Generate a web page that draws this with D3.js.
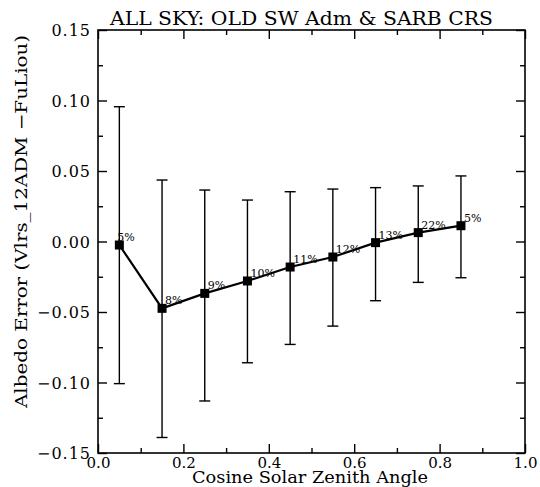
<!DOCTYPE html>
<html>
<head>
<meta charset="utf-8">
<script src="https://cdn.jsdelivr.net/npm/d3@7"></script>
<style>
  body { margin: 0; background: #fff; }
  svg text { font-family: "DejaVu Serif", "Liberation Serif", serif; fill: #000; }
</style>
</head>
<body>
<svg id="chart" width="540" height="487"></svg>
<script>
// cosine of solar zenith angle bins
const csza = [0.05, 0.15, 0.25, 0.35, 0.45, 0.55, 0.65, 0.75, 0.85];
// mean albedo error per bin
const albedoErr = [-0.0025, -0.0474, -0.0368, -0.028, -0.0181, -0.011, -0.0008, 0.0063, 0.0112];
// error bar ends
const errHigh = [0.0956, 0.0436, 0.0365, 0.0294, 0.0353, 0.0372, 0.0382, 0.0394, 0.0465];
const errLow = [-0.1008, -0.139, -0.1131, -0.086, -0.073, -0.060, -0.042, -0.029, -0.0257];
// percentage of samples in each bin
const pctLabels = ["5%", "8%", "9%", "10%", "11%", "12%", "13%", "22%", "5%"];

const xMajor = [0.0, 0.2, 0.4, 0.6, 0.8, 1.0];
const xMinor = [0.1, 0.3, 0.5, 0.7, 0.9];
const yMajor = [-0.15, -0.10, -0.05, 0.00, 0.05, 0.10, 0.15];
const yMinor = [-0.125, -0.075, -0.025, 0.025, 0.075, 0.125];

const plotL = 98, plotR = 525, plotT = 30, plotB = 453;

const svg = d3.select("#chart");
const x = d3.scaleLinear().domain([0, 1]).range([plotL, plotR]);
const y = d3.scaleLinear().domain([-0.15, 0.15]).range([plotB, plotT]);

// frame
svg.append("rect")
    .attr("x", plotL).attr("y", plotT)
    .attr("width", plotR - plotL).attr("height", plotB - plotT)
    .attr("fill", "none").attr("stroke", "#000").attr("stroke-width", 1.6);

function styleAxis(g) {
    g.select(".domain").remove();
    g.selectAll(".tick line").attr("stroke", "#000").attr("stroke-width", 1.4);
}

// bottom axis with labels
svg.append("g")
    .attr("transform", `translate(0,${plotB})`)
    .call(d3.axisBottom(x).tickValues(xMajor).tickSize(-9).tickFormat(d3.format(".1f")))
    .call(styleAxis)
    .call(g => g.selectAll(".tick text")
        .attr("y", 15).attr("dy", 0)
        .style("font-family", "DejaVu Serif").style("font-size", "15px"));
svg.append("g")
    .attr("transform", `translate(0,${plotB})`)
    .call(d3.axisBottom(x).tickValues(xMinor).tickSize(-5).tickFormat(""))
    .call(styleAxis);
// top axis
svg.append("g")
    .attr("transform", `translate(0,${plotT})`)
    .call(d3.axisTop(x).tickValues(xMajor).tickSize(-9).tickFormat(""))
    .call(styleAxis);
svg.append("g")
    .attr("transform", `translate(0,${plotT})`)
    .call(d3.axisTop(x).tickValues(xMinor).tickSize(-5).tickFormat(""))
    .call(styleAxis);

// left axis with labels
svg.append("g")
    .attr("transform", `translate(${plotL},0)`)
    .call(d3.axisLeft(y).tickValues(yMajor).tickSize(-9).tickFormat(d3.format(".2f")))
    .call(styleAxis)
    .call(g => g.selectAll(".tick text")
        .attr("x", -7).attr("dy", "0.35em")
        .text(d => d3.format(".2f")(d).replace("-", "\u2212"))
        .style("letter-spacing", "1px")
        .style("font-family", "DejaVu Serif").style("font-size", "16px"));
svg.append("g")
    .attr("transform", `translate(${plotL},0)`)
    .call(d3.axisLeft(y).tickValues(yMinor).tickSize(-5).tickFormat(""))
    .call(styleAxis);
// right axis
svg.append("g")
    .attr("transform", `translate(${plotR},0)`)
    .call(d3.axisRight(y).tickValues(yMajor).tickSize(-9).tickFormat(""))
    .call(styleAxis);
svg.append("g")
    .attr("transform", `translate(${plotR},0)`)
    .call(d3.axisRight(y).tickValues(yMinor).tickSize(-5).tickFormat(""))
    .call(styleAxis);

// error bars
const bars = svg.append("g").attr("stroke", "#000").attr("stroke-width", 1.4);
csza.forEach((c, i) => {
    bars.append("line")
        .attr("x1", x(c)).attr("x2", x(c))
        .attr("y1", y(errHigh[i])).attr("y2", y(errLow[i]));
    [errHigh[i], errLow[i]].forEach(v => {
        bars.append("line")
            .attr("x1", x(c) - 5.5).attr("x2", x(c) + 5.5)
            .attr("y1", y(v)).attr("y2", y(v));
    });
});

// mean line
const line = d3.line().x((d, i) => x(csza[i])).y(d => y(d));
svg.append("path")
    .datum(albedoErr)
    .attr("d", line)
    .attr("fill", "none").attr("stroke", "#000").attr("stroke-width", 2.2);

// square markers
svg.append("g").selectAll("rect")
    .data(albedoErr)
    .join("rect")
    .attr("x", (d, i) => x(csza[i]) - 4.5)
    .attr("y", d => y(d) - 4.5)
    .attr("width", 9).attr("height", 9)
    .attr("fill", "#000");

// percentage labels
svg.append("g").selectAll("text")
    .data(pctLabels)
    .join("text")
    .attr("x", (d, i) => x(csza[i]) + (i === 0 ? -2 : 3))
    .attr("y", (d, i) => y(albedoErr[i]) - 4)
    .style("font-size", "11px")
    .text(d => d);

// title
svg.append("text")
    .attr("x", 110).attr("y", 25)
    .attr("textLength", 383).attr("lengthAdjust", "spacingAndGlyphs")
    .style("font-size", "19px")
    .text("ALL SKY: OLD SW Adm & SARB CRS");

// x label
svg.append("text")
    .attr("x", 192).attr("y", 483)
    .attr("textLength", 236).attr("lengthAdjust", "spacingAndGlyphs")
    .style("font-size", "16px")
    .text("Cosine Solar Zenith Angle");

// y label
svg.append("text")
    .attr("transform", "translate(27,408) rotate(-90)")
    .attr("textLength", 373).attr("lengthAdjust", "spacingAndGlyphs")
    .style("font-size", "17px")
    .text("Albedo Error (Vlrs_12ADM \u2212FuLiou)");
</script>
</body>
</html>
